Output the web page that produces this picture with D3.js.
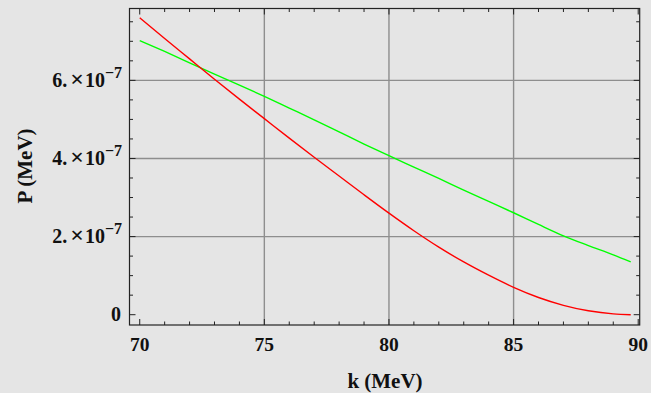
<!DOCTYPE html>
<html>
<head>
<meta charset="utf-8">
<script src="https://cdn.jsdelivr.net/npm/d3@7"></script>
<style>
	body { margin: 0; background: #e5e5e5; }
	svg { display: block; }
	text { font-family: "Liberation Serif", "DejaVu Serif", serif; font-weight: bold; fill: #111; }
</style>
</head>
<body>
<svg id="chart" width="651" height="393"></svg>
<script>
// k in MeV, P in units of 1e-7 MeV
var kValues = [70, 71, 72, 73, 74, 75, 76, 77, 78, 79, 80, 81, 82, 83, 84, 85, 86, 87, 88, 89, 89.7];
var redP = [7.60, 7.07, 6.55, 6.03, 5.52, 5.02, 4.52, 4.03, 3.55, 3.07, 2.60, 2.15, 1.73, 1.35, 1.01, 0.70, 0.44, 0.24, 0.10, 0.02, 0.0];
var greenP = [7.02, 6.74, 6.45, 6.16, 5.88, 5.59, 5.29, 4.99, 4.68, 4.37, 4.07, 3.78, 3.49, 3.19, 2.90, 2.61, 2.31, 2.02, 1.77, 1.53, 1.35];
var xTicks = [70, 75, 80, 85, 90];
var yTicks = [0, 2, 4, 6];
var xGrid = [75, 80, 85];
var yGrid = [2, 4, 6];

var svg = d3.select("#chart");

// plot box (window.top is reserved, so plotTop etc.)
var plotLeft = 129.5, plotRight = 639.7, plotTop = 8.5, plotBottom = 325;

var x = d3.scaleLinear().domain([69.59, 90.06]).range([plotLeft, plotRight]);
var y = d3.scaleLinear().domain([-0.264, 7.84]).range([plotBottom, plotTop]);

svg.append("rect")
	.attr("width", 651).attr("height", 393)
	.attr("fill", "#e5e5e5");

// grid
svg.selectAll(".gx")
	.data(xGrid)
	.enter().append("line")
	.attr("x1", function (d) { return x(d); })
	.attr("x2", function (d) { return x(d); })
	.attr("y1", plotTop).attr("y2", plotBottom)
	.attr("stroke", "#8e8e8e")
	.attr("stroke-width", 1.4);

svg.selectAll(".gy")
	.data(yGrid)
	.enter().append("line")
	.attr("y1", function (d) { return y(d); })
	.attr("y2", function (d) { return y(d); })
	.attr("x1", plotLeft).attr("x2", plotRight)
	.attr("stroke", "#8e8e8e")
	.attr("stroke-width", 1.4);

// frame ticks on all four sides, pointing inward
var xMinor = d3.range(70, 90.5, 1);
var yMinor = d3.range(0, 7.8, 0.5);

function drawTicks(values, isMajor, side) {
	var len = function (d) { return isMajor(d) ? 6 : 3.5; };
	var horiz = side == "b" || side == "t";
	svg.append("g").selectAll("line")
		.data(values)
		.enter().append("line")
		.attr("x1", function (d) { return horiz ? x(d) : (side == "l" ? plotLeft : plotRight); })
		.attr("x2", function (d) { return horiz ? x(d) : (side == "l" ? plotLeft + len(d) : plotRight - len(d)); })
		.attr("y1", function (d) { return horiz ? (side == "b" ? plotBottom : plotTop) : y(d); })
		.attr("y2", function (d) { return horiz ? (side == "b" ? plotBottom - len(d) : plotTop + len(d)) : y(d); })
		.attr("stroke", "#222")
		.attr("stroke-width", 1);
}
drawTicks(xMinor, function (d) { return d % 5 == 0; }, "b");
drawTicks(xMinor, function (d) { return d % 5 == 0; }, "t");
drawTicks(yMinor, function (d) { return d % 2 == 0; }, "l");
drawTicks(yMinor, function (d) { return d % 2 == 0; }, "r");

// curves
var line = d3.line()
	.x(function (d) { return x(d[0]); })
	.y(function (d) { return y(d[1]); })
	.curve(d3.curveMonotoneX);

svg.append("path")
	.datum(d3.zip(kValues, greenP))
	.attr("d", line)
	.attr("fill", "none")
	.attr("stroke", "#00ff00")
	.attr("stroke-width", 1.4);

svg.append("path")
	.datum(d3.zip(kValues, redP))
	.attr("d", line)
	.attr("fill", "none")
	.attr("stroke", "#ff0000")
	.attr("stroke-width", 1.4);

// frame
svg.append("rect")
	.attr("x", plotLeft).attr("y", plotTop)
	.attr("width", plotRight - plotLeft).attr("height", plotBottom - plotTop)
	.attr("fill", "none")
	.attr("stroke", "#222")
	.attr("stroke-width", 1.2);

// x tick labels
svg.selectAll(".xl")
	.data(xTicks)
	.enter().append("text")
	.attr("x", function (d) { return x(d); })
	.attr("y", 351)
	.attr("text-anchor", "middle")
	.style("font-size", "19.5px")
	.text(function (d) { return d; });

// y tick labels
var yl = svg.selectAll(".yl")
	.data(yTicks)
	.enter().append("text")
	.attr("x", 122)
	.attr("y", function (d) { return y(d) + 6.5; })
	.attr("text-anchor", "end")
	.style("font-size", "20px");

yl.each(function (d) {
	var t = d3.select(this);
	if (d == 0) {
		t.attr("x", 121).text("0");
		return;
	}
	t.append("tspan").text(d + ".");
	t.append("tspan").text("\u00d7").attr("dx", 3).style("font-size", "24px");
	t.append("tspan").text("10").attr("dx", 1);
	t.append("tspan").text("\u22127")
		.attr("dy", -9)
		.style("font-size", "16px");
});

// axis titles
svg.append("text")
	.attr("x", 385)
	.attr("y", 388)
	.attr("text-anchor", "middle")
	.style("font-size", "21px")
	.text("k (MeV)");

svg.append("text")
	.attr("transform", "translate(32," + 166 + ") rotate(-90)")
	.attr("text-anchor", "middle")
	.style("font-size", "21px")
	.text("P (MeV)");
</script>
</body>
</html>
